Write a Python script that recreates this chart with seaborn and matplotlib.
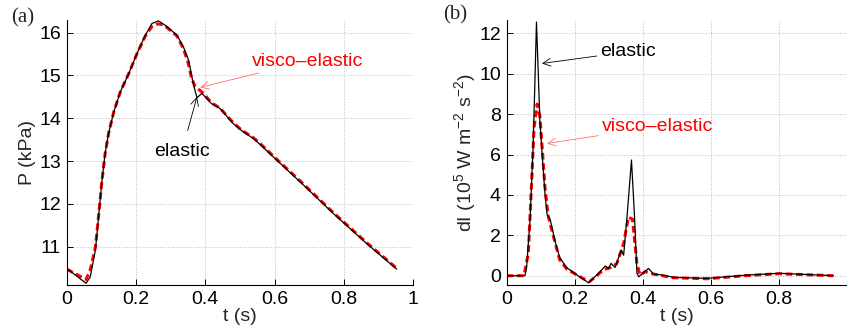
import numpy as np
import pandas as pd
import matplotlib
matplotlib.use("Agg")
import matplotlib.pyplot as plt
import seaborn as sns

# (a) pressure, kPa
t_p_el = [0.0, 0.056, 0.068, 0.083, 0.092, 0.102, 0.111, 0.121, 0.136, 0.155, 0.179, 0.203, 0.227, 0.246,
          0.265, 0.284, 0.318, 0.337, 0.352, 0.361, 0.371, 0.376, 0.39, 0.418, 0.442, 0.48, 0.505, 0.538,
          0.562, 0.601, 0.673, 0.769, 0.865, 0.952]
p_el = [10.50, 10.15, 10.30, 10.93, 11.70, 12.56, 13.18, 13.65, 14.15, 14.62, 15.04, 15.51, 15.94, 16.21,
        16.27, 16.17, 15.94, 15.66, 15.35, 14.97, 14.62, 14.48, 14.58, 14.34, 14.23, 13.88, 13.71, 13.53,
        13.36, 13.06, 12.52, 11.78, 11.08, 10.48]
t_p_ve = [0.0, 0.056, 0.068, 0.083, 0.092, 0.102, 0.111, 0.121, 0.136, 0.155, 0.179, 0.203, 0.227, 0.246,
          0.262, 0.28, 0.318, 0.337, 0.35, 0.36, 0.37, 0.378, 0.392, 0.418, 0.442, 0.48, 0.505, 0.538,
          0.562, 0.601, 0.673, 0.769, 0.865, 0.952]
p_ve = [10.48, 10.24, 10.46, 11.00, 11.72, 12.56, 13.18, 13.65, 14.15, 14.62, 15.04, 15.51, 15.92, 16.14,
        16.20, 16.18, 15.92, 15.62, 15.30, 14.95, 14.74, 14.69, 14.60, 14.36, 14.24, 13.90, 13.72, 13.55,
        13.38, 13.08, 12.54, 11.80, 11.10, 10.50]

# (b) wave intensity dI, 1e5 W m^-2 s^-2
t_di_el = [0.0, 0.054, 0.059, 0.069, 0.078, 0.083, 0.088, 0.093, 0.098, 0.106, 0.113, 0.119, 0.129, 0.142,
           0.156, 0.176, 0.21, 0.241, 0.265, 0.29, 0.3, 0.307, 0.319, 0.337, 0.344, 0.354, 0.367, 0.376,
           0.383, 0.389, 0.4, 0.417, 0.432, 0.461, 0.49, 0.588, 0.705, 0.802, 0.96]
di_el = [0.0, 0.0, 0.41, 2.73, 6.36, 9.34, 12.56, 10.16, 7.68, 5.70, 4.05, 3.06, 2.73, 1.74,
         0.91, 0.41, 0.0, -0.35, 0.03, 0.48, 0.36, 0.61, 0.41, 1.27, 1.02, 2.92, 5.73, 2.92,
         0.12, -0.05, 0.12, 0.36, 0.08, 0.03, -0.08, -0.13, 0.03, 0.12, 0.0]
t_di_ve = [0.0, 0.051, 0.064, 0.074, 0.081, 0.09, 0.098, 0.106, 0.113, 0.122, 0.134, 0.156, 0.176, 0.21,
           0.243, 0.265, 0.285, 0.305, 0.324, 0.344, 0.358, 0.37, 0.383, 0.392, 0.407, 0.432, 0.49,
           0.59, 0.7, 0.8, 0.96]
di_ve = [0.0, 0.0, 1.08, 4.71, 7.35, 8.5, 7.9, 6.03, 4.40, 3.0, 2.2, 0.8, 0.35, 0.0,
         -0.3, 0.0, 0.3, 0.4, 0.6, 1.6, 2.9, 2.8, 0.62, 0.03, 0.2, 0.08, -0.1,
         -0.15, 0.0, 0.1, 0.0]

xticks = [0, 0.2, 0.4, 0.6, 0.8, 1]
xtick_labels = ["0", "0.2", "0.4", "0.6", "0.8", "1"]

sns.set_theme(style="ticks")
plt.rcParams["font.family"] = ["Liberation Sans", "DejaVu Sans"]
plt.rcParams["mathtext.default"] = "regular"
plt.rcParams["font.size"] = 14

fig = plt.figure(figsize=(8.47, 3.29), dpi=100)
ax1 = fig.add_axes([0.0787, 0.1337, 0.4093, 0.8053])
ax2 = fig.add_axes([0.598, 0.1337, 0.402, 0.8053])

black = "black"
red = "#ff0000"
dash = (0, (2.2, 1.2))

sns.lineplot(x=t_p_el, y=p_el, ax=ax1, color=black, lw=0.9, sort=False, estimator=None, zorder=3)
sns.lineplot(x=t_p_ve, y=p_ve, ax=ax1, color=red, lw=2.2, linestyle=dash, sort=False, estimator=None, zorder=2)
sns.lineplot(x=t_di_el, y=di_el, ax=ax2, color=black, lw=0.9, sort=False, estimator=None, zorder=3)
sns.lineplot(x=t_di_ve, y=di_ve, ax=ax2, color=red, lw=2.2, linestyle=dash, sort=False, estimator=None, zorder=2)

ax1.set_ylim(10.11, 16.29)
ax1.set_yticks([11, 12, 13, 14, 15, 16])
ax2.set_ylim(-0.46, 12.66)
ax2.set_yticks([0, 2, 4, 6, 8, 10, 12])

for ax in (ax1, ax2):
    ax.set_xlim(0, 1)
    ax.set_xticks(xticks)
    ax.grid(True, linestyle=":", color="#bdbdbd", lw=0.7)
    ax.tick_params(direction="in", length=4, width=0.7, labelsize=14, pad=4, colors="black")
    for s in ("top", "right"):
        ax.spines[s].set_visible(False)
    for s in ("left", "bottom"):
        ax.spines[s].set_linewidth(0.8)
        ax.spines[s].set_color("black")
    ax.set_xlabel("t (s)", fontsize=14, labelpad=0)

ax1.set_xticklabels(xtick_labels)
# the "1" of panel (b) falls off the figure edge in the original
ax2.set_xticklabels(xtick_labels[:-1] + [""])

ax1.set_ylabel("P (kPa)", fontsize=14, labelpad=2)
ax2.set_ylabel(r"dI (10$^5$ W m$^{-2}$ s$^{-2}$)", fontsize=14, labelpad=1)

ax1.annotate("visco\u2013elastic", xy=(0.385, 14.72), xytext=(0.533, 15.33), color=red, fontsize=14,
             va="center", ha="left",
             arrowprops=dict(arrowstyle="->", color="#ff7070", lw=0.6, shrinkA=0, shrinkB=0))
ax1.annotate("elastic", xy=(0.376, 14.5), xytext=(0.332, 13.22), color=black, fontsize=14,
             va="center", ha="center",
             arrowprops=dict(arrowstyle="->", color=black, lw=0.6, shrinkA=7, shrinkB=0))
ax2.annotate("elastic", xy=(0.104, 10.51), xytext=(0.275, 11.09), color=black, fontsize=14,
             va="center", ha="left",
             arrowprops=dict(arrowstyle="->", color=black, lw=0.6, shrinkA=0, shrinkB=0))
ax2.annotate("visco\u2013elastic", xy=(0.119, 6.55), xytext=(0.28, 7.38), color=red, fontsize=14,
             va="center", ha="left",
             arrowprops=dict(arrowstyle="->", color="#ff7070", lw=0.6, shrinkA=0, shrinkB=0))

fig.text(0.027, 0.945, "(a)", fontsize=15, family="Liberation Serif", va="center", ha="center")
fig.text(0.537, 0.955, "(b)", fontsize=15, family="Liberation Serif", va="center", ha="center")

fig.canvas.draw()
shown = [t.get_text() for t in ax1.get_xticklabels() if t.get_visible()]
if "1" not in shown:
    raise RuntimeError("tick 1 missing: " + repr(shown) + " " + repr(list(ax1.get_xticks())))

fig.savefig("out.png", dpi=100)
